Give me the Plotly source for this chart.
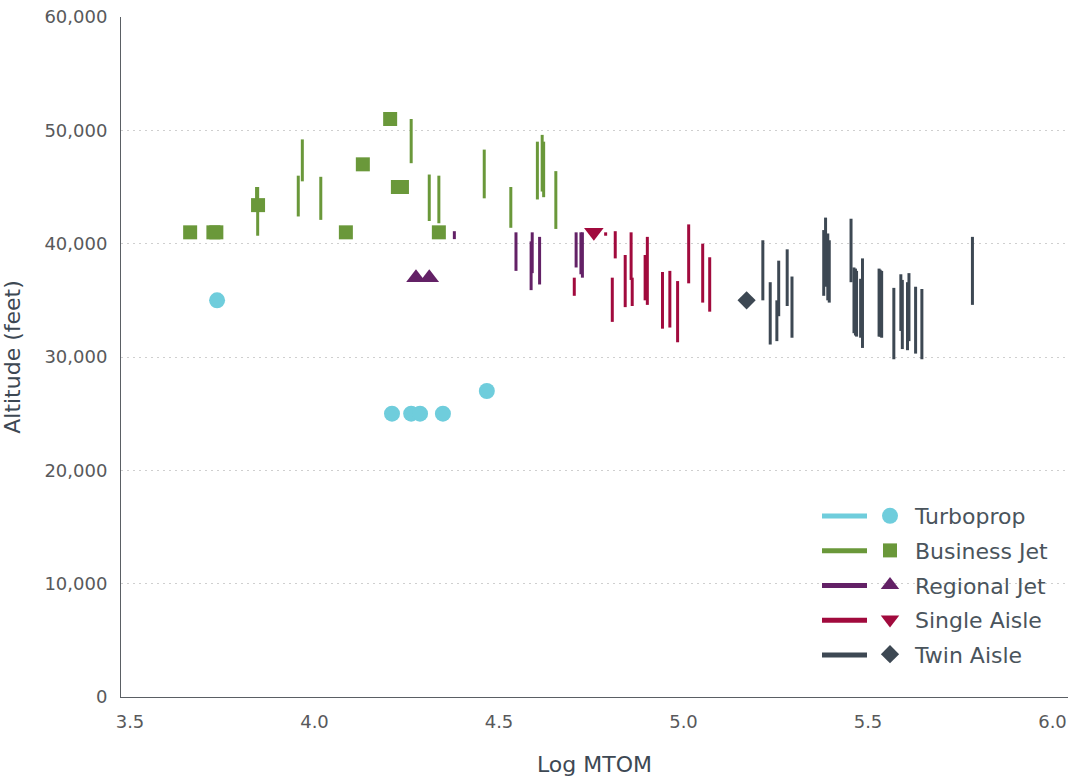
import plotly.graph_objects as go

# ---------------- data ----------------
series_names = ["Turboprop", "Business Jet", "Regional Jet", "Single Aisle", "Twin Aisle"]
series_colors = ["#6FCDDC", "#6A983A", "#632166", "#A10A3D", "#3D4853"]
series_symbols = ["circle", "square", "triangle-up", "triangle-down", "diamond"]
series_sizes = [16, 14, 17, 17, 14]

# point (marker) values: log MTOM, altitude (ft)
turbo_pt_x = [3.736, 4.210, 4.262, 4.286, 4.348, 4.467]
turbo_pt_y = [35000, 25000, 25000, 25000, 25000, 27000]

bizjet_pt_x = [3.663, 3.726, 3.734, 3.847, 4.085, 4.131, 4.205, 4.226, 4.237, 4.337]
bizjet_pt_y = [41000, 41000, 41000, 43400, 41000, 47000, 51000, 45000, 45000, 41000]

regional_pt_x = [4.275, 4.311]
regional_pt_y = [37000, 37000]

single_pt_x = [4.757]
single_pt_y = [41000]

twin_pt_x = [5.171]
twin_pt_y = [35000]

# range (vertical line) values: log MTOM, low altitude, high altitude (ft)
turbo_rng_x = []
turbo_rng_lo = []
turbo_rng_hi = []

bizjet_rng_x = [3.846, 3.843, 3.956, 3.967, 4.017, 4.262, 4.311, 4.337, 4.460,
                4.532, 4.604, 4.617, 4.621, 4.654]
bizjet_rng_lo = [40700, 43500, 42400, 45500, 42100, 47100, 42000, 41800, 44000,
                 41400, 43900, 44600, 44100, 41300]
bizjet_rng_hi = [45000, 45000, 46000, 49200, 45900, 51000, 46100, 46000, 48300,
                 45000, 49000, 49600, 49000, 46400]

regional_rng_x = [4.379, 4.546, 4.587, 4.590, 4.610, 4.709, 4.722, 4.726]
regional_rng_lo = [40400, 37600, 35900, 37400, 36400, 37900, 37300, 37000]
regional_rng_hi = [41100, 41000, 40200, 41000, 40600, 41000, 41000, 41000]

single_rng_x = [4.704, 4.789, 4.815, 4.807, 4.842, 4.858, 4.861, 4.896, 4.902,
                4.943, 4.963, 4.984, 5.014, 5.052, 5.071]
single_rng_lo = [35400, 40700, 38700, 33100, 34400, 36800, 34500, 35000, 34600,
                 32500, 32600, 31300, 36500, 34800, 34000]
single_rng_hi = [37000, 41000, 41100, 37000, 39000, 41000, 37000, 39000, 40600,
                 37500, 37600, 36700, 41700, 40000, 38800]

twin_rng_x = [5.215, 5.235, 5.253, 5.258, 5.281, 5.294, 5.380, 5.385, 5.391, 5.395,
              5.454, 5.462, 5.466, 5.469, 5.480, 5.485, 5.530, 5.533, 5.537, 5.570,
              5.589, 5.593, 5.607, 5.611, 5.629, 5.646, 5.783]
twin_rng_lo = [35000, 31100, 31400, 33600, 34500, 31700, 35400, 36200, 35000, 34800,
               36600, 32100, 31900, 31800, 31700, 30800, 31800, 31800, 31700, 29800,
               32300, 30700, 30600, 31400, 30300, 29800, 34600]
twin_rng_hi = [40300, 36600, 35000, 38500, 39500, 37100, 41200, 42300, 40900, 40300,
               42200, 37900, 37800, 37600, 36900, 38700, 37800, 37700, 37600, 36100,
               37300, 36800, 36600, 37400, 36200, 36000, 40600]

y_tick_vals = [0, 10000, 20000, 30000, 40000, 50000, 60000]
y_tick_text = ["0", "10,000", "20,000", "30,000", "40,000", "50,000", "60,000"]
x_tick_vals = [3.5, 4.0, 4.5, 5.0, 5.5, 6.0]
x_tick_text = ["3.5", "4.0", "4.5", "5.0", "5.5", "6.0"]

points = [(turbo_pt_x, turbo_pt_y), (bizjet_pt_x, bizjet_pt_y), (regional_pt_x, regional_pt_y),
          (single_pt_x, single_pt_y), (twin_pt_x, twin_pt_y)]
ranges = [(turbo_rng_x, turbo_rng_lo, turbo_rng_hi), (bizjet_rng_x, bizjet_rng_lo, bizjet_rng_hi),
          (regional_rng_x, regional_rng_lo, regional_rng_hi),
          (single_rng_x, single_rng_lo, single_rng_hi), (twin_rng_x, twin_rng_lo, twin_rng_hi)]

FONT = "DejaVu Sans"
fig = go.Figure()

# vertical range lines
for name, color, (rx, rlo, rhi) in zip(series_names, series_colors, ranges):
    lx, ly = [], []
    for x, lo, hi in zip(rx, rlo, rhi):
        lx += [x, x, None]
        ly += [lo, hi, None]
    fig.add_trace(go.Scatter(x=lx, y=ly, mode="lines", line=dict(color=color, width=3),
                             showlegend=False, hoverinfo="skip"))

# point markers (also used as legend entries)
for name, color, sym, size, (px, py) in zip(series_names, series_colors, series_symbols,
                                            series_sizes, points):
    fig.add_trace(go.Scatter(x=px, y=py, mode="markers", name=name, legendgroup=name,
                             marker=dict(color=color, symbol=sym, size=size, line=dict(width=0))))

W, H = 1072, 778
PL, PR, PT, PB = 121, 1068, 17, 697          # plot area in pixels
L, R, T, B = PL, W - PR, PT, H - PB
pw, ph = PR - PL, PB - PT

def px_x(p):
    return (p - PL) / pw

def px_y(p):
    return (PB - p) / ph

row_y = [516, 550.75, 585.5, 620.25, 655]
shapes = []
for color, yy in zip(series_colors, row_y):
    shapes.append(dict(type="line", xref="paper", yref="paper",
                       x0=px_x(822), x1=px_x(867), y0=px_y(yy), y1=px_y(yy),
                       line=dict(color=color, width=5)))

fig.update_layout(
    width=W, height=H,
    margin=dict(l=L, r=R, t=T, b=B, autoexpand=False),
    plot_bgcolor="white", paper_bgcolor="white",
    font=dict(family=FONT, color="#58595B"),
    shapes=shapes,
    legend=dict(x=px_x(865), xanchor="left", y=px_y(495), yanchor="top",
                font=dict(size=22, color="#4A545C", family=FONT), itemwidth=40,
                bgcolor="rgba(0,0,0,0)", tracegroupgap=3, itemsizing="trace"),
    xaxis=dict(range=[3.4756, 6.042], tickvals=x_tick_vals, ticktext=x_tick_text,
               showgrid=False, zeroline=False, showline=True, linecolor="#5A5F64", linewidth=1,
               ticks="", automargin=False, ticklabeloverflow="allow", ticklabelstandoff=8,
               tickfont=dict(size=18, color="#58595B"),
               title=dict(text="Log MTOM", font=dict(size=22, color="#3D4853"), standoff=26)),
    yaxis=dict(range=[0, 60000], tickvals=y_tick_vals, ticktext=y_tick_text,
               showgrid=True, gridcolor="#CFCFCF", griddash="2px,4px", gridwidth=1,
               zeroline=False, showline=True, linecolor="#5A5F64", linewidth=1,
               ticks="", automargin=False, ticklabeloverflow="allow", ticklabelstandoff=9,
               tickfont=dict(size=18, color="#58595B"),
               title=dict(text="Altitude (feet)", font=dict(size=22, color="#3D4853"), standoff=18)),
)

# remove the browser's default 8px body margin so the figure fills the window exactly
fig.write_html("out.html", config={"displayModeBar": False},
               post_script="document.body.style.margin='0';document.body.style.overflow='hidden';")
